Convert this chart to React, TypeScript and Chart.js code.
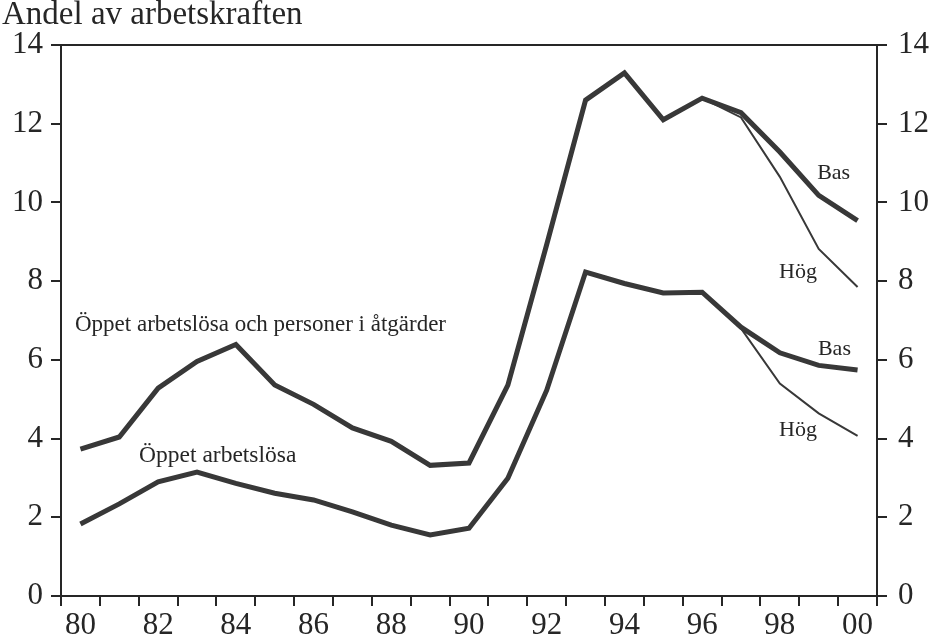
import React, { useEffect, useRef } from "react";
import { Chart, registerables } from "chart.js";

Chart.register(...registerables);

// ---- data ----
const years = [
  "1980", "1981", "1982", "1983", "1984", "1985", "1986", "1987", "1988", "1989", "1990",
  "1991", "1992", "1993", "1994", "1995", "1996", "1997", "1998", "1999", "2000",
];
const xTickLabels = [
  "80", "", "82", "", "84", "", "86", "", "88", "", "90",
  "", "92", "", "94", "", "96", "", "98", "", "00",
];
const yTicks = [0, 2, 4, 6, 8, 10, 12, 14];

// Öppet arbetslösa och personer i åtgärder (Bas)
const totalBas = [
  3.73, 4.04, 5.28, 5.96, 6.39, 5.36, 4.87, 4.27, 3.93, 3.32, 3.38,
  5.36, 8.93, 12.6, 13.29, 12.1, 12.65, 12.28, 11.28, 10.18, 9.54,
];
// Öppet arbetslösa och personer i åtgärder (Hög)
const totalHog = [
  null, null, null, null, null, null, null, null, null, null, null,
  null, null, null, null, null, 12.65, 12.16, 10.65, 8.82, 7.85,
];
// Öppet arbetslösa (Bas)
const openBas = [
  1.83, 2.34, 2.9, 3.15, 2.86, 2.61, 2.44, 2.14, 1.8, 1.55, 1.72,
  2.99, 5.23, 8.23, 7.94, 7.7, 7.72, 6.83, 6.18, 5.86, 5.74,
];
// Öppet arbetslösa (Hög)
const openHog = [
  null, null, null, null, null, null, null, null, null, null, null,
  null, null, null, null, null, 7.72, 6.8, 5.4, 4.64, 4.07,
];

const titleText = "Andel av arbetskraften";
const noteTexts = [
  "Öppet arbetslösa och personer i åtgärder",
  "Öppet arbetslösa",
  "Bas",
  "Hög",
  "Bas",
  "Hög",
];
// anchor of each note in data coordinates (category index, value)
const noteX = [-0.14, 1.51, 18.96, 17.98, 18.98, 17.98];
const noteY = [6.73, 3.4, 10.59, 8.08, 6.12, 4.07];
const noteSize = [23, 23.5, 22, 22, 22, 22];

const SERIF = "'Liberation Serif', 'DejaVu Serif', 'Times New Roman', serif";
const INK = "#262626";
const LINE = "#383838";

const textPlugin = {
  id: "textNotes",
  afterDraw(chart: any) {
    const { ctx } = chart;
    const xs = chart.scales.x;
    const ys = chart.scales.y;
    ctx.save();
    ctx.fillStyle = INK;
    ctx.textBaseline = "alphabetic";
    ctx.textAlign = "left";
    ctx.font = `33px ${SERIF}`;
    ctx.fillText(titleText, 2, 24);
    noteTexts.forEach((t, i) => {
      ctx.font = `${noteSize[i]}px ${SERIF}`;
      const px = xs.getPixelForValue(noteX[i]);
      const py = ys.getPixelForValue(noteY[i]);
      ctx.fillText(t, px, py);
    });
    ctx.restore();
  },
};

export default function App() {
  const ref = useRef<HTMLCanvasElement | null>(null);

  useEffect(() => {
    if (!ref.current) return;
    const thick = { borderColor: LINE, borderWidth: 5, pointRadius: 0, fill: false, tension: 0 };
    const thin = { borderColor: LINE, borderWidth: 2, pointRadius: 0, fill: false, tension: 0 };
    const yScale = (pos: "left" | "right", w: number, pad: number) => ({
      type: "linear" as const,
      position: pos,
      min: 0,
      max: 14,
      afterBuildTicks: (s: any) => {
        s.ticks = yTicks.map((v) => ({ value: v }));
      },
      afterFit: (s: any) => {
        s.width = w;
      },
      ticks: {
        color: INK,
        font: { family: SERIF, size: 31 },
        padding: pad,
      },
      grid: {
        drawOnChartArea: false,
        drawTicks: true,
        tickLength: 10,
        color: INK,
        lineWidth: 2,
      },
      border: { display: true, color: INK, width: 2 },
    });

    const chart = new Chart(ref.current, {
      type: "line",
      data: {
        labels: years,
        datasets: [
          { label: "Öppet arbetslösa och personer i åtgärder, Hög", data: totalHog, ...thin },
          { label: "Öppet arbetslösa och personer i åtgärder, Bas", data: totalBas, ...thick },
          { label: "Öppet arbetslösa, Hög", data: openHog, ...thin },
          { label: "Öppet arbetslösa, Bas", data: openBas, ...thick },
        ],
      },
      options: {
        animation: false,
        responsive: true,
        maintainAspectRatio: false,
        layout: { padding: { top: 45, left: 0, right: 0, bottom: 0 } },
        plugins: {
          legend: { display: false },
          tooltip: { enabled: false },
          title: { display: false },
        },
        scales: {
          x: {
            type: "category",
            position: "bottom",
            offset: true,
            afterFit: (s: any) => {
              s.height = 41;
            },
            ticks: {
              color: INK,
              font: { family: SERIF, size: 31 },
              autoSkip: false,
              maxRotation: 0,
              minRotation: 0,
              padding: 1,
              callback: (_v: any, i: number) => xTickLabels[i],
            },
            grid: {
              offset: true,
              drawOnChartArea: false,
              drawTicks: true,
              tickLength: 10,
              color: INK,
              lineWidth: 2,
            },
            border: { display: true, color: INK, width: 2 },
          },
          xTop: {
            type: "category",
            position: "top",
            offset: true,
            afterFit: (s: any) => {
              s.height = 0;
            },
            ticks: { display: false },
            grid: { display: false },
            border: { display: true, color: INK, width: 2 },
          },
          y: yScale("left", 61, 8),
          y2: yScale("right", 52, 11),
        },
      },
      plugins: [textPlugin],
    } as any);
    return () => chart.destroy();
  }, []);

  return (
    <div style={{ position: "absolute", left: 0, top: 0, width: 929, height: 637, background: "#fff" }}>
      <canvas ref={ref} />
    </div>
  );
}
